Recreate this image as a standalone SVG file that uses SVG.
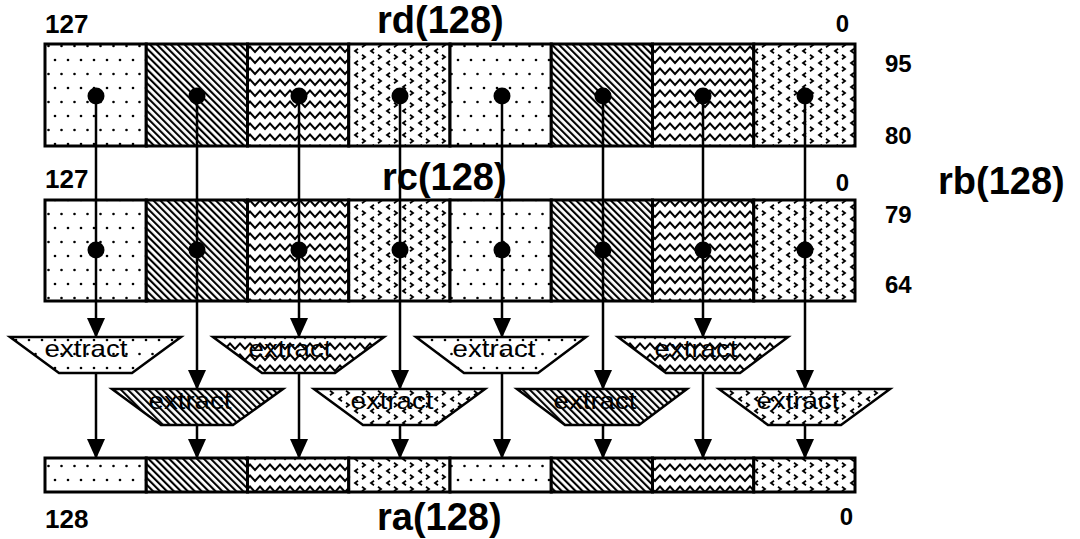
<svg xmlns="http://www.w3.org/2000/svg" width="1080" height="539" viewBox="0 0 1080 539">
<style>
.cell{stroke:#000;stroke-width:3}
.trap{stroke:#000;stroke-width:2.5;stroke-linejoin:miter}
.wire{stroke:#000;stroke-width:2.5;fill:none}
.dot{fill:#000}
.lbl{font-family:"Liberation Sans",Arial,sans-serif;font-weight:bold;fill:#000}
.ext{font-family:"Liberation Sans",Arial,sans-serif;font-size:24px;fill:#000}
</style>
<defs>
<pattern id="pDots" width="26" height="28" patternUnits="userSpaceOnUse">
<rect width="26" height="28" fill="#fff"/>
<circle cx="3" cy="4" r="1.3" fill="#000"/>
<circle cx="16" cy="4" r="1.3" fill="#000"/>
<circle cx="9.5" cy="18" r="1.3" fill="#000"/>
<circle cx="22.5" cy="18" r="1.3" fill="#000"/>
</pattern>
<pattern id="pDiag" width="4.9" height="10" patternUnits="userSpaceOnUse" patternTransform="rotate(-45)">
<rect width="4.9" height="10" fill="#fff"/>
<rect x="0" y="0" width="2.1" height="10" fill="#000"/>
</pattern>
<pattern id="pZig" width="10" height="11" patternUnits="userSpaceOnUse">
<rect width="10" height="11" fill="#fff"/>
<polyline points="-2.5,5.5 0,2.5 5,8 10,2.5 12.5,5.5" fill="none" stroke="#000" stroke-width="2"/>
</pattern>
<pattern id="pChev" width="16" height="12" patternUnits="userSpaceOnUse">
<rect width="16" height="12" fill="#fff"/>
<polyline points="6,0.8 3,3 6,5.2" fill="none" stroke="#000" stroke-width="1.8"/>
<polyline points="10,6.8 13,9 10,11.2" fill="none" stroke="#000" stroke-width="1.8"/>
</pattern>
<marker id="arr" viewBox="0 0 20 18" markerWidth="20" markerHeight="18" markerUnits="userSpaceOnUse" refX="19" refY="9" orient="auto">
<path d="M0,0 L20,9 L0,18 Z" fill="#000"/>
</marker>
</defs>
<rect width="1080" height="539" fill="#fff"/>

<g id="rd">
<rect class="cell" x="45" y="44" width="101.25" height="102" fill="url(#pDots)"/>
<rect class="cell" x="146.25" y="44" width="101.25" height="102" fill="url(#pDiag)"/>
<rect class="cell" x="247.5" y="44" width="101.25" height="102" fill="url(#pZig)"/>
<rect class="cell" x="348.75" y="44" width="101.25" height="102" fill="url(#pChev)"/>
<rect class="cell" x="450" y="44" width="101.25" height="102" fill="url(#pDots)"/>
<rect class="cell" x="551.25" y="44" width="101.25" height="102" fill="url(#pDiag)"/>
<rect class="cell" x="652.5" y="44" width="101.25" height="102" fill="url(#pZig)"/>
<rect class="cell" x="753.75" y="44" width="101.25" height="102" fill="url(#pChev)"/>
</g>

<g id="rc">
<rect class="cell" x="45" y="200" width="101.25" height="101" fill="url(#pDots)"/>
<rect class="cell" x="146.25" y="200" width="101.25" height="101" fill="url(#pDiag)"/>
<rect class="cell" x="247.5" y="200" width="101.25" height="101" fill="url(#pZig)"/>
<rect class="cell" x="348.75" y="200" width="101.25" height="101" fill="url(#pChev)"/>
<rect class="cell" x="450" y="200" width="101.25" height="101" fill="url(#pDots)"/>
<rect class="cell" x="551.25" y="200" width="101.25" height="101" fill="url(#pDiag)"/>
<rect class="cell" x="652.5" y="200" width="101.25" height="101" fill="url(#pZig)"/>
<rect class="cell" x="753.75" y="200" width="101.25" height="101" fill="url(#pChev)"/>
</g>

<g id="ra">
<rect class="cell" x="45" y="458" width="101.25" height="34" fill="url(#pDots)"/>
<rect class="cell" x="146.25" y="458" width="101.25" height="34" fill="url(#pDiag)"/>
<rect class="cell" x="247.5" y="458" width="101.25" height="34" fill="url(#pZig)"/>
<rect class="cell" x="348.75" y="458" width="101.25" height="34" fill="url(#pChev)"/>
<rect class="cell" x="450" y="458" width="101.25" height="34" fill="url(#pDots)"/>
<rect class="cell" x="551.25" y="458" width="101.25" height="34" fill="url(#pDiag)"/>
<rect class="cell" x="652.5" y="458" width="101.25" height="34" fill="url(#pZig)"/>
<rect class="cell" x="753.75" y="458" width="101.25" height="34" fill="url(#pChev)"/>
</g>

<g id="extract1">
<polygon class="trap" points="10,337 181,337 132,373 59,373" fill="url(#pDots)"/>
<text class="ext" x="86" y="357" text-anchor="middle" textLength="83" lengthAdjust="spacingAndGlyphs">extract</text>
</g>
<g id="extract2">
<polygon class="trap" points="112,389 283,389 233,425 161,425" fill="url(#pDiag)"/>
<text class="ext" x="190" y="409" text-anchor="middle" textLength="83" lengthAdjust="spacingAndGlyphs">extract</text>
</g>
<g id="extract3">
<polygon class="trap" points="213,337 384,337 335,373 262,373" fill="url(#pZig)"/>
<text class="ext" x="290" y="357" text-anchor="middle" textLength="83" lengthAdjust="spacingAndGlyphs">extract</text>
</g>
<g id="extract4">
<polygon class="trap" points="314,389 485,389 436,425 363,425" fill="url(#pChev)"/>
<text class="ext" x="392" y="409" text-anchor="middle" textLength="83" lengthAdjust="spacingAndGlyphs">extract</text>
</g>
<g id="extract5">
<polygon class="trap" points="416,337 586,337 538,373 464,373" fill="url(#pDots)"/>
<text class="ext" x="494" y="357" text-anchor="middle" textLength="83" lengthAdjust="spacingAndGlyphs">extract</text>
</g>
<g id="extract6">
<polygon class="trap" points="517,389 687,389 639,425 565,425" fill="url(#pDiag)"/>
<text class="ext" x="595" y="409" text-anchor="middle" textLength="83" lengthAdjust="spacingAndGlyphs">extract</text>
</g>
<g id="extract7">
<polygon class="trap" points="618,337 788,337 740,373 666,373" fill="url(#pZig)"/>
<text class="ext" x="696" y="357" text-anchor="middle" textLength="83" lengthAdjust="spacingAndGlyphs">extract</text>
</g>
<g id="extract8">
<polygon class="trap" points="719,389 890,389 841,425 768,425" fill="url(#pChev)"/>
<text class="ext" x="798" y="409" text-anchor="middle" textLength="83" lengthAdjust="spacingAndGlyphs">extract</text>
</g>

<g id="connectors">
<line class="wire" x1="96" y1="96" x2="96" y2="337" marker-end="url(#arr)"/>
<line class="wire" x1="197" y1="96" x2="197" y2="389" marker-end="url(#arr)"/>
<line class="wire" x1="299" y1="96" x2="299" y2="337" marker-end="url(#arr)"/>
<line class="wire" x1="400" y1="96" x2="400" y2="389" marker-end="url(#arr)"/>
<line class="wire" x1="502" y1="96" x2="502" y2="337" marker-end="url(#arr)"/>
<line class="wire" x1="603" y1="96" x2="603" y2="389" marker-end="url(#arr)"/>
<line class="wire" x1="703" y1="96" x2="703" y2="337" marker-end="url(#arr)"/>
<line class="wire" x1="805" y1="96" x2="805" y2="389" marker-end="url(#arr)"/>
<line class="wire" x1="96" y1="373" x2="96" y2="458" marker-end="url(#arr)"/>
<line class="wire" x1="197" y1="425" x2="197" y2="458" marker-end="url(#arr)"/>
<line class="wire" x1="299" y1="373" x2="299" y2="458" marker-end="url(#arr)"/>
<line class="wire" x1="400" y1="425" x2="400" y2="458" marker-end="url(#arr)"/>
<line class="wire" x1="502" y1="373" x2="502" y2="458" marker-end="url(#arr)"/>
<line class="wire" x1="603" y1="425" x2="603" y2="458" marker-end="url(#arr)"/>
<line class="wire" x1="703" y1="373" x2="703" y2="458" marker-end="url(#arr)"/>
<line class="wire" x1="805" y1="425" x2="805" y2="458" marker-end="url(#arr)"/>
<circle class="dot" cx="96" cy="96" r="8.5"/>
<circle class="dot" cx="197" cy="96" r="8.5"/>
<circle class="dot" cx="299" cy="96" r="8.5"/>
<circle class="dot" cx="400" cy="96" r="8.5"/>
<circle class="dot" cx="502" cy="96" r="8.5"/>
<circle class="dot" cx="603" cy="96" r="8.5"/>
<circle class="dot" cx="703" cy="96" r="8.5"/>
<circle class="dot" cx="805" cy="96" r="8.5"/>
<circle class="dot" cx="96" cy="250" r="8.5"/>
<circle class="dot" cx="197" cy="250" r="8.5"/>
<circle class="dot" cx="299" cy="250" r="8.5"/>
<circle class="dot" cx="400" cy="250" r="8.5"/>
<circle class="dot" cx="502" cy="250" r="8.5"/>
<circle class="dot" cx="603" cy="250" r="8.5"/>
<circle class="dot" cx="703" cy="250" r="8.5"/>
<circle class="dot" cx="805" cy="250" r="8.5"/>
</g>

<g id="labels">
<text class="lbl" x="45" y="33" font-size="26">127</text>
<text class="lbl" x="377" y="33" font-size="38">rd(128)</text>
<text class="lbl" x="849" y="32" font-size="24" text-anchor="end">0</text>
<text class="lbl" x="885" y="72" font-size="24">95</text>
<text class="lbl" x="885" y="144" font-size="24">80</text>
<text class="lbl" x="45" y="188" font-size="26">127</text>
<text class="lbl" x="382" y="190" font-size="38">rc(128)</text>
<text class="lbl" x="849" y="191" font-size="24" text-anchor="end">0</text>
<text class="lbl" x="938" y="194" font-size="38">rb(128)</text>
<text class="lbl" x="885" y="223" font-size="24">79</text>
<text class="lbl" x="885" y="293" font-size="24">64</text>
<text class="lbl" x="45" y="528" font-size="26">128</text>
<text class="lbl" x="377" y="530" font-size="38">ra(128)</text>
<text class="lbl" x="853" y="525" font-size="24" text-anchor="end">0</text>
</g>
</svg>
